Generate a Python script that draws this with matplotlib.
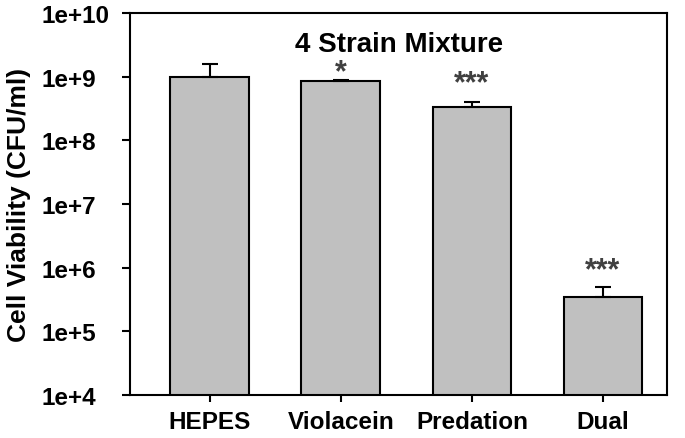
import numpy as np
import matplotlib.pyplot as plt

plt.rcParams['font.family'] = ['Liberation Sans', 'DejaVu Sans']
plt.rcParams['font.weight'] = 'bold'

groups = ['HEPES', 'Violacein', 'Predation', 'Dual']
viability = [1.0e9, 8.5e8, 3.35e8, 3.45e5]
err_up = [6.0e8, 5.0e7, 6.0e7, 1.6e5]
stars = ['', '*', '***', '***']
star_y = [None, 1.16e9, 7.9e8, 9.0e5]

fig = plt.figure(figsize=(6.85, 4.39), dpi=100)
ax = fig.add_axes([0.19, 0.098, 0.784, 0.87])

x = np.arange(len(groups))
ax.bar(x, viability, width=0.6, color='#c0c0c0', edgecolor='black', linewidth=1.5, zorder=2)
ax.errorbar(x, viability, yerr=[np.zeros(len(x)), err_up], fmt='none', ecolor='black',
            elinewidth=1.5, capsize=6, capthick=1.5, zorder=3)

for xi, s, sy in zip(x, stars, star_y):
    if s:
        ax.text(xi, sy, s, ha='center', va='center', fontsize=22,
                color='#404040', fontweight='bold')

ax.set_yscale('log')
ax.set_ylim(1e4, 1e10)
ax.set_xlim(-0.607, 3.49)
ax.set_yticks([1e4, 1e5, 1e6, 1e7, 1e8, 1e9, 1e10])
ax.set_yticklabels(['1e+4', '1e+5', '1e+6', '1e+7', '1e+8', '1e+9', '1e+10'])
ax.minorticks_off()
ax.set_xticks(x)
ax.set_xticklabels(groups)
ax.tick_params(axis='both', labelsize=17.5, width=1.5, direction='out')
# left-aligned y tick labels, as in the original
ax.tick_params(axis='y', length=6, pad=58)
for lab in ax.get_yticklabels():
    lab.set_horizontalalignment('left')
ax.tick_params(axis='x', length=5, pad=6)
for sp in ax.spines.values():
    sp.set_linewidth(1.5)

ax.set_ylabel('Cell Viability (CFU/ml)', fontsize=19, fontweight='bold')
ax.yaxis.set_label_coords(-0.184, 0.5)
ax.text(0.5, 0.92, '4 Strain Mixture', transform=ax.transAxes, ha='center', va='center',
        fontsize=20, fontweight='bold')

fig.savefig('out.png', dpi=100)
